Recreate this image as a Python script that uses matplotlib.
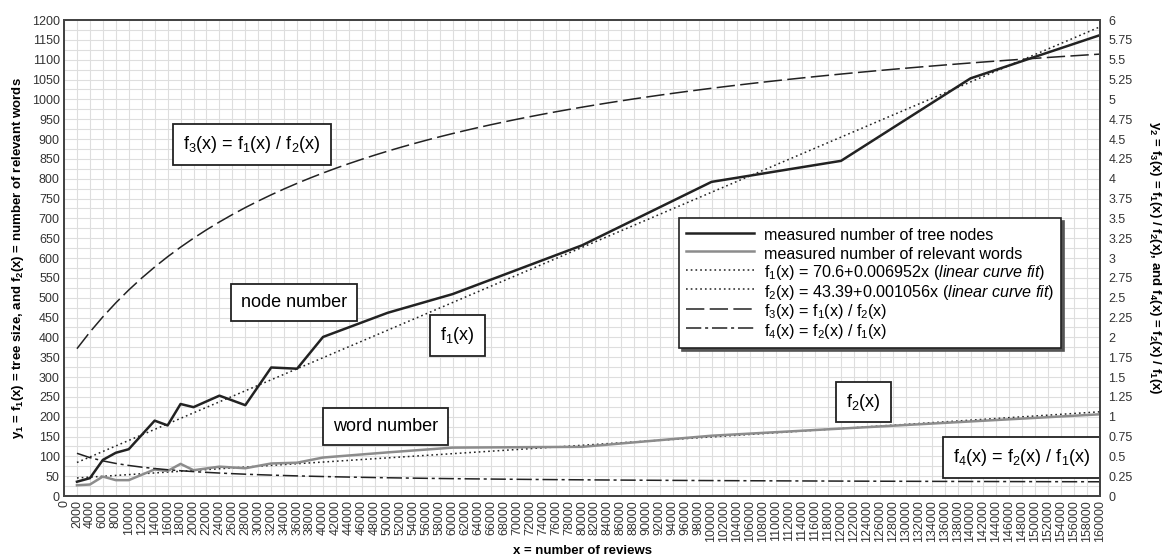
import numpy as np
import matplotlib
matplotlib.use("Agg")
import matplotlib.pyplot as plt
from matplotlib.ticker import MultipleLocator

plt.rcParams['font.family'] = ['Liberation Sans', 'DejaVu Sans']
plt.rcParams['mathtext.fontset'] = 'custom'
plt.rcParams['mathtext.rm'] = 'Liberation Sans'
plt.rcParams['mathtext.it'] = 'Liberation Sans:italic'
plt.rcParams['mathtext.bf'] = 'Liberation Sans:bold'
plt.rcParams['mathtext.default'] = 'regular'

# number of reviews at which the tree was measured
reviews = [2000, 4000, 6000, 8000, 10000, 14000, 16000, 18000, 20000, 24000,
           28000, 32000, 36000, 40000, 50000, 60000, 80000, 100000, 120000,
           140000, 160000]
tree_nodes = [36, 45, 91, 109, 118, 190, 178, 232, 224, 253,
              229, 324, 321, 401, 462, 509, 632, 792, 845, 1053, 1162]
relevant_words = [27, 29, 49, 40, 40, 67, 63, 81, 65, 74,
                  70, 82, 84, 97, 110, 122, 124, 152, 170, 188, 206]

# linear fits (intercept, slope) as given in the legend
f1_coef = (70.6, 0.006952)
f2_coef = (43.39, 0.001056)

x_ticks = np.arange(0, 160001, 2000)
xs = np.arange(2000, 160001, 2000)
f1 = f1_coef[0] + f1_coef[1] * xs
f2 = f2_coef[0] + f2_coef[1] * xs
f3 = f1 / f2
f4 = f2 / f1

fig = plt.figure(figsize=(11.68, 5.57), dpi=100)
ax = fig.add_axes([0.0548, 0.1095, 0.887, 0.8545])
ax2 = ax.twinx()

ax.plot(reviews, tree_nodes, color='#222222', lw=1.8,
        label='measured number of tree nodes', zorder=4)
ax.plot(reviews, relevant_words, color='#8c8c8c', lw=1.8,
        label='measured number of relevant words', zorder=4)
ax.plot(xs, f1, color='#222222', lw=1.1, ls=(0, (1.1, 2.0)),
        label='f$_1$(x) = 70.6+0.006952x $\\mathit{(linear\\ curve\\ fit)}$', zorder=3)
ax.plot(xs, f2, color='#222222', lw=1.1, ls=(0, (1.1, 2.0)),
        label='f$_2$(x) = 43.39+0.001056x $\\mathit{(linear\\ curve\\ fit)}$', zorder=3)
l3, = ax2.plot(xs, f3, color='#222222', lw=1.1, ls=(0, (12, 3.5)),
               label='f$_3$(x) = f$_1$(x) / f$_2$(x)')
l4, = ax2.plot(xs, f4, color='#222222', lw=1.1, ls=(0, (10, 2.5, 2, 2.5)),
               label='f$_4$(x) = f$_2$(x) / f$_1$(x)')

ax.set_xlim(0, 160000)
ax.set_ylim(0, 1200)
ax2.set_ylim(0, 6)
ax.set_xticks(x_ticks)
ax.set_xticklabels([str(v) for v in x_ticks], rotation=90, fontsize=8.5, color='#333333')
ax.yaxis.set_major_locator(MultipleLocator(50))
ax.yaxis.set_minor_locator(MultipleLocator(25))
ax2.yaxis.set_major_locator(MultipleLocator(0.25))
ax2.set_yticklabels([f"{v:g}" for v in ax2.get_yticks()])
ax.tick_params(axis='both', length=0, labelsize=9, pad=3, colors='#333333')
ax.tick_params(axis='y', which='minor', length=0)
ax2.tick_params(axis='y', length=0, labelsize=9, pad=6, colors='#333333')

ax.grid(True, which='both', color='#dedede', lw=0.8)
ax.set_axisbelow(True)
for a in (ax, ax2):
    for s in a.spines.values():
        s.set_color('#444444')
        s.set_linewidth(1.4)

ax.set_xlabel('x = number of reviews', fontsize=9.5, fontweight='bold', labelpad=2)
ax.set_ylabel('y$_\\mathbf{1}$ = f$_\\mathbf{1}$(x) = tree size, and f$_\\mathbf{2}$(x) = number of relevant words',
              fontsize=9.5, fontweight='bold', labelpad=4)
ax2.set_ylabel('y$_\\mathbf{2}$ = f$_\\mathbf{3}$(x) = f$_\\mathbf{1}$(x) / f$_\\mathbf{2}$(x), and '
               'f$_\\mathbf{4}$(x) = f$_\\mathbf{2}$(x) / f$_\\mathbf{1}$(x)',
               fontsize=9.5, fontweight='bold', rotation=270, labelpad=22)

# boxed annotations
box = dict(boxstyle='square,pad=0.55', fc='white', ec='#222222', lw=1.3)
notes = [
    ('f$_3$(x) = f$_1$(x) / f$_2$(x)', 29030, 887),
    ('node number', 35500, 488),
    ('f$_1$(x)', 60800, 404),
    ('word number', 49700, 175),
    ('f$_2$(x)', 123500, 237),
    ('f$_4$(x) = f$_2$(x) / f$_1$(x)', 147900, 98),
]
for text, xv, yv in notes:
    ax.text(xv, yv, text, fontsize=13, ha='center', va='center', bbox=box, zorder=6)

# tall handle boxes give every row the same height
handles = ax.get_lines() + [l3, l4]
leg = ax2.legend(handles=handles, loc='upper left', bbox_to_anchor=(0.5936, 0.584),
                 borderaxespad=0, fontsize=11.6, frameon=True, fancybox=False,
                 shadow={'color': '#555555', 'alpha': 1, 'ox': 2, 'oy': -2},
                 handlelength=4.2, handletextpad=0.6, borderpad=0.45,
                 handleheight=1.45, labelspacing=-0.03, framealpha=1)
leg.get_frame().set_edgecolor('#222222')
leg.get_frame().set_linewidth(1.2)
leg.set_zorder(10)

fig.savefig('out.png', dpi=100)
